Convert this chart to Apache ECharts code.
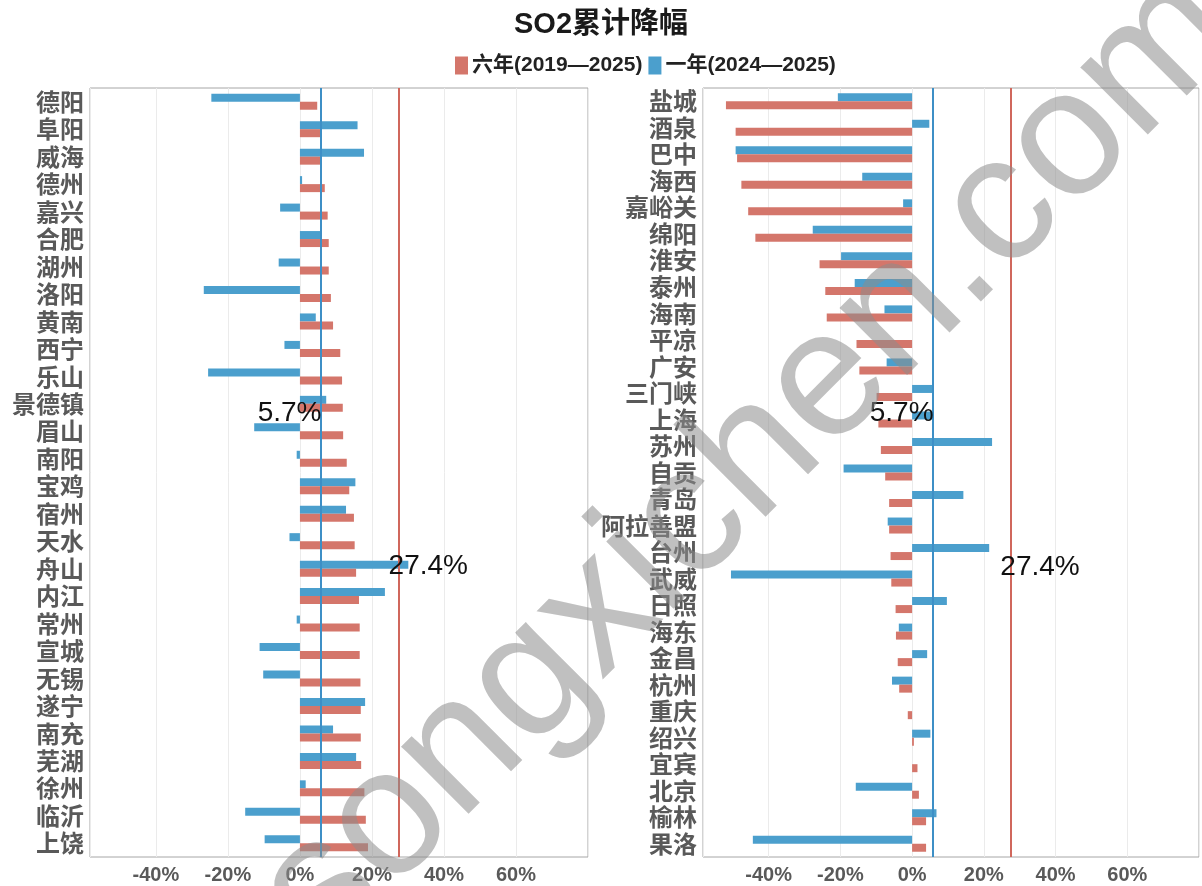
<!DOCTYPE html>
<html>
<head>
<meta charset="utf-8">
<title>SO2累计降幅</title>
<script src="https://cdn.jsdelivr.net/npm/echarts@6/dist/echarts.min.js"></script>
<style>
  html, body { margin: 0; padding: 0; background: #fff; }
  #chart { width: 1202px; height: 886px; }
</style>
</head>
<body>
<div id="chart"></div>
<script>
  // 左图城市及降幅(%)
  var leftCities = ['德阳', '阜阳', '威海', '德州', '嘉兴', '合肥', '湖州', '洛阳', '黄南', '西宁', '乐山', '景德镇', '眉山', '南阳',
    '宝鸡', '宿州', '天水', '舟山', '内江', '常州', '宣城', '无锡', '遂宁', '南充', '芜湖', '徐州', '临沂', '上饶'];
  var leftSixYear = [4.8, 5.6, 6.1, 6.9, 7.7, 8.0, 8.0, 8.6, 9.2, 11.2, 11.7, 11.9, 12.0, 13.0,
    13.7, 15.0, 15.2, 15.6, 16.4, 16.6, 16.6, 16.8, 16.9, 16.9, 17.0, 17.9, 18.3, 18.9];
  var leftOneYear = [-24.6, 16.0, 17.8, 0.6, -5.5, 5.6, -5.9, -26.7, 4.4, -4.3, -25.5, 7.3, -12.7, -0.9,
    15.4, 12.8, -2.9, 30.1, 23.6, -0.9, -11.2, -10.2, 18.1, 9.2, 15.6, 1.6, -15.2, -9.8];

  // 右图城市及降幅(%)
  var rightCities = ['盐城', '酒泉', '巴中', '海西', '嘉峪关', '绵阳', '淮安', '泰州', '海南', '平凉', '广安', '三门峡', '上海', '苏州',
    '自贡', '青岛', '阿拉善盟', '台州', '武威', '日照', '海东', '金昌', '杭州', '重庆', '绍兴', '宜宾', '北京', '榆林', '果洛'];
  var rightSixYear = [-51.9, -49.2, -48.8, -47.6, -45.7, -43.7, -25.8, -24.2, -23.8, -15.5, -14.7, -9.9, -9.4, -8.7,
    -7.5, -6.4, -6.4, -6.0, -5.8, -4.6, -4.5, -4.0, -3.6, -1.2, 0.5, 1.5, 1.9, 3.9, 3.9];
  var rightOneYear = [-20.7, 4.8, -49.2, -13.9, -2.5, -27.7, -19.8, -16.0, -7.7, 0, -7.1, 5.8, 5.6, 22.3,
    -19.1, 14.3, -6.8, 21.5, -50.5, 9.7, -3.7, 4.2, -5.6, 0, 5.1, 0, -15.7, 6.8, -44.4];

  // 参考线：一年均值、六年均值
  var oneYearAvg = 5.7;
  var sixYearAvg = 27.4;
  var axisMin = -58.3, axisMax = 80;

  var seriesNames = ['六年(2019—2025)', '一年(2024—2025)'];
  var red = '#d4766b', blue = '#4b9fcd';
  var fontLatin = '"Liberation Sans", Arial, "Noto Sans CJK SC", sans-serif';

  function xAxisOf(idx) {
    return {
      type: 'value', gridIndex: idx, min: axisMin, max: axisMax, splitNumber: 7,
      axisLine: { show: false }, axisTick: { show: false },
      splitLine: { show: true, lineStyle: { color: '#ebebeb', width: 1 } },
      axisLabel: {
        showMinLabel: false, showMaxLabel: false, margin: 8,
        color: '#595959', fontSize: 20, fontWeight: 'bold', fontFamily: fontLatin,
        formatter: function (v) { return v + '%'; }
      }
    };
  }

  function yAxisOf(idx, cities) {
    return {
      type: 'category', gridIndex: idx, data: cities, inverse: true,
      axisLine: { show: false }, axisTick: { show: false },
      axisLabel: {
        interval: 0, margin: 6, color: '#595959', fontSize: 24, fontWeight: 'bold',
        fontFamily: '"Noto Sans CJK SC", sans-serif'
      }
    };
  }

  function refLines() {
    return {
      silent: true, symbol: 'none', label: { show: false },
      data: [
        { xAxis: oneYearAvg, lineStyle: { color: '#3d8fc6', width: 2, type: 'solid' } },
        { xAxis: sixYearAvg, lineStyle: { color: '#d0675c', width: 2, type: 'solid' } }
      ]
    };
  }

  function refLabels(oneCity, oneOff, sixCity, sixOff) {
    var txt = { color: '#111', fontSize: 28, fontFamily: fontLatin };
    return {
      silent: true, symbol: 'circle', symbolSize: 0,
      data: [
        {
          coord: [oneYearAvg, oneCity],
          label: Object.assign({ show: true, position: 'left', distance: 0, offset: [1, oneOff],
            formatter: oneYearAvg + '%' }, txt)
        },
        {
          coord: [sixYearAvg, sixCity],
          label: Object.assign({ show: true, position: 'right', distance: 0, offset: [-10, sixOff],
            formatter: sixYearAvg + '%' }, txt)
        }
      ]
    };
  }

  function barSeries(name, idx, data, color, extra) {
    var s = {
      name: name, type: 'bar', xAxisIndex: idx, yAxisIndex: idx, data: data,
      barWidth: 8, barGap: '0%', itemStyle: { color: color }
    };
    return Object.assign(s, extra || {});
  }

  var myChart = echarts.init(document.getElementById('chart'));
  myChart.setOption({
    animation: false,
    title: {
      text: 'SO2累计降幅', left: 'center', top: 5,
      textStyle: { fontSize: 29, fontWeight: 'bold', color: '#1a1a1a', fontFamily: fontLatin }
    },
    legend: {
      data: seriesNames, top: 50, left: 450,
      itemWidth: 13, itemHeight: 18, itemGap: 6,
      icon: 'rect',
      textStyle: { fontSize: 21, fontWeight: 'bold', color: '#222', fontFamily: fontLatin, padding: [0, 0, 0, -1] }
    },
    grid: [
      { left: 90, top: 88, width: 498, height: 769, show: true, borderColor: '#a6a6a6', borderWidth: 1, containLabel: false },
      { left: 703, top: 88, width: 496, height: 769, show: true, borderColor: '#a6a6a6', borderWidth: 1, containLabel: false }
    ],
    xAxis: [xAxisOf(0), xAxisOf(1)],
    yAxis: [yAxisOf(0, leftCities), yAxisOf(1, rightCities)],
    graphic: [{
      type: 'text', silent: true, z: 100,
      x: 750, y: 462, rotation: Math.PI / 4,
      style: {
        text: 'songxichen.com', fontSize: 180, fontFamily: fontLatin,
        fill: 'rgba(140,140,140,0.55)', align: 'center', verticalAlign: 'middle'
      }
    }],
    series: [
      // 一年系列在前，使蓝色条位于每组上方
      barSeries(seriesNames[1], 0, leftOneYear, blue),
      barSeries(seriesNames[0], 0, leftSixYear, red, { markLine: refLines(), markPoint: refLabels('景德镇', 5, '舟山', -6) }),
      barSeries(seriesNames[1], 1, rightOneYear, blue),
      barSeries(seriesNames[0], 1, rightSixYear, red, { markLine: refLines(), markPoint: refLabels('上海', -10, '台州', 11) })
    ]
  });
</script>
</body>
</html>
